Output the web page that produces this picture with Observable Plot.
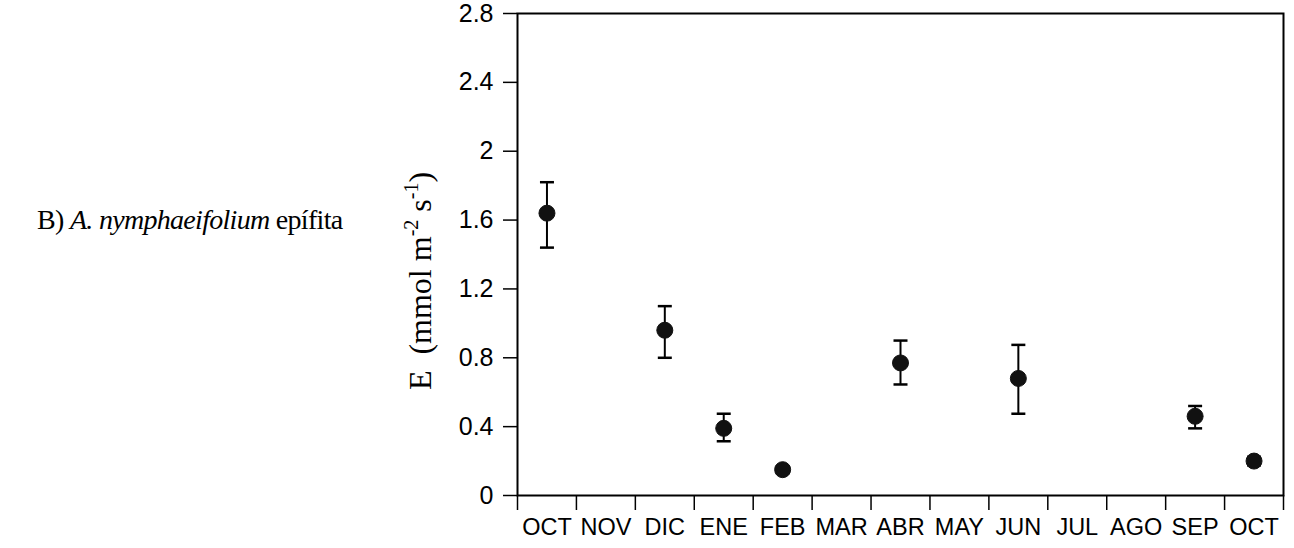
<!DOCTYPE html>
<html>
<head>
<meta charset="utf-8">
<script src="https://cdn.jsdelivr.net/npm/d3@7"></script>
<script src="https://cdn.jsdelivr.net/npm/@observablehq/plot@0.6"></script>
<style>
  html, body { margin: 0; padding: 0; background: #fff; }
  #chart svg { display: block; }
</style>
</head>
<body>
<div id="chart"></div>
<script>
// ---- data ----
const months = ["OCT","NOV","DIC","ENE","FEB","MAR","ABR","MAY","JUN","JUL","AGO","SEP","OCT"];
const sampleMonthIndex = [0, 2, 3, 4, 6, 8, 11, 12];
const meanE  = [1.64, 0.96, 0.39, 0.15, 0.77, 0.68, 0.46, 0.20];
const upperE = [1.82, 1.10, 0.475, 0.17, 0.90, 0.875, 0.52, 0.225];
const lowerE = [1.44, 0.80, 0.315, 0.13, 0.645, 0.475, 0.39, 0.175];
const yTicks = [0, 0.4, 0.8, 1.2, 1.6, 2, 2.4, 2.8];
const yTickLabels = ["0", "0.4", "0.8", "1.2", "1.6", "2", "2.4", "2.8"];

const data = sampleMonthIndex.map((m, i) => ({
  x: m + 0.5, mean: meanE[i], lo: lowerE[i], hi: upperE[i]
}));
const boundaries = d3.range(0, months.length + 1);
const centers = months.map((_, i) => i + 0.5);

const capSymbol = {
  draw(ctx, size) {
    const r = Math.sqrt(size / Math.PI);
    ctx.moveTo(-r, 0);
    ctx.lineTo(r, 0);
  }
};

const chart = Plot.plot({
  width: 1294,
  height: 548,
  marginLeft: 517,
  marginRight: 11,
  marginTop: 13,
  marginBottom: 53,
  style: { fontFamily: "Arial, 'Liberation Sans', sans-serif", color: "#000", background: "#fff" },
  x: { domain: [0, months.length] },
  y: { domain: [0, 2.8] },
  marks: [
    Plot.axisY({
      ticks: yTicks, tickSize: 14, tickPadding: 10, fontSize: 25,
      tickFormat: d => yTickLabels[yTicks.indexOf(d)], label: null, strokeWidth: 1.5
    }),
    Plot.axisX({
      ticks: boundaries, tickSize: 15, tickFormat: () => "", label: null, strokeWidth: 1.5
    }),
    Plot.axisX({
      ticks: centers, tickSize: 0, tickPadding: 23, fontSize: 23.5,
      tickFormat: d => months[Math.round(d - 0.5)], label: null
    }),
    Plot.frame({ stroke: "#000", strokeWidth: 2 }),
    Plot.ruleX(data, { x: "x", y1: "lo", y2: "hi", stroke: "#000", strokeWidth: 2 }),
    Plot.dot(data, { x: "x", y: "hi", symbol: capSymbol, r: 7, stroke: "#000", strokeWidth: 2.5, fill: "none" }),
    Plot.dot(data, { x: "x", y: "lo", symbol: capSymbol, r: 7, stroke: "#000", strokeWidth: 2.5, fill: "none" }),
    Plot.dot(data, { x: "x", y: "mean", r: 8, fill: "#111", stroke: "#111", strokeWidth: 1 })
  ]
});

document.getElementById("chart").appendChild(chart);

// ---- panel title and rotated y label (Times, with italic and superscripts) ----
const svg = d3.select(chart);
const serif = "'Times New Roman', 'Liberation Serif', serif";

const title = svg.append("text")
  .attr("x", 37).attr("y", 229)
  .attr("text-anchor", "start")
  .attr("letter-spacing", -0.7)
  .attr("font-family", serif).attr("font-size", 28).attr("fill", "#000");
title.append("tspan").text("B) ");
title.append("tspan").attr("font-style", "italic").text("A. nymphaeifolium");
title.append("tspan").text(" epífita");

const yMid = (chart.scale("y").apply(0) + chart.scale("y").apply(2.8)) / 2;
const ylab = svg.append("text")
  .attr("transform", `translate(431, ${yMid + 27}) rotate(-90)`)
  .attr("text-anchor", "middle")
  .attr("font-family", serif).attr("font-size", 32).attr("fill", "#000");
ylab.append("tspan").text("E  (mmol m");
ylab.append("tspan").attr("dy", -13).attr("font-size", 20).text("-2");
ylab.append("tspan").attr("dy", 13).text(" s");
ylab.append("tspan").attr("dy", -13).attr("font-size", 20).text("-1");
ylab.append("tspan").attr("dy", 13).text(")");
</script>
</body>
</html>
